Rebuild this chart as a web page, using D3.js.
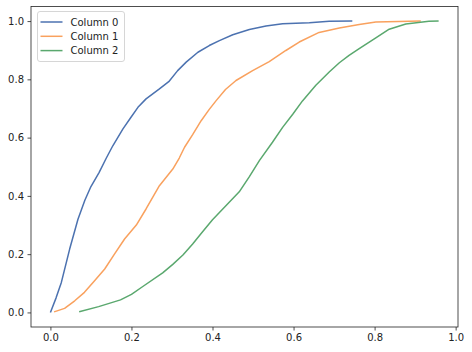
<!DOCTYPE html>
<html>
<head>
<meta charset="utf-8">
<script src="https://cdn.jsdelivr.net/npm/d3@7"></script>
<style>
  body { margin: 0; background: #fff; }
  text { font-family: "DejaVu Sans", sans-serif; }
</style>
</head>
<body>
<div id="chart"></div>
<script>
// series names (legend)
var seriesNames = ["Column 0", "Column 1", "Column 2"];

// traced points [x, y] for each column
var col0 = [[0, 0], [0.014, 0.05], [0.027, 0.103], [0.0475, 0.2175], [0.068, 0.32], [0.085, 0.385],
  [0.1, 0.432], [0.12, 0.48], [0.138, 0.53], [0.154, 0.572], [0.179, 0.63], [0.198, 0.668],
  [0.216, 0.704], [0.236, 0.733], [0.269, 0.767], [0.292, 0.792], [0.314, 0.83], [0.335, 0.859],
  [0.364, 0.893], [0.392, 0.916], [0.417, 0.933], [0.45, 0.953], [0.491, 0.971], [0.532, 0.983],
  [0.573, 0.991], [0.639, 0.994], [0.688, 0.999], [0.745, 1.0]];

var col1 = [[0.009, 0.002], [0.035, 0.014], [0.06, 0.04], [0.084, 0.069], [0.109, 0.109], [0.134, 0.149],
  [0.158, 0.2], [0.183, 0.252], [0.212, 0.3], [0.236, 0.355], [0.269, 0.435], [0.302, 0.492],
  [0.318, 0.53], [0.331, 0.567], [0.351, 0.61], [0.372, 0.658], [0.392, 0.697], [0.409, 0.727],
  [0.432, 0.765], [0.458, 0.796], [0.499, 0.83], [0.540, 0.861], [0.581, 0.899], [0.614, 0.928],
  [0.663, 0.961], [0.713, 0.976], [0.762, 0.988], [0.803, 0.997], [0.914, 1.0]];

var col2 = [[0.071, 0.002], [0.119, 0.02], [0.173, 0.043], [0.2, 0.062], [0.228, 0.089], [0.277, 0.136],
  [0.302, 0.165], [0.327, 0.197], [0.351, 0.235], [0.376, 0.278], [0.4, 0.318], [0.433, 0.366],
  [0.466, 0.414], [0.491, 0.466], [0.516, 0.522], [0.548, 0.584], [0.573, 0.635], [0.598, 0.68],
  [0.622, 0.726], [0.655, 0.78], [0.688, 0.825], [0.713, 0.857], [0.737, 0.882], [0.762, 0.905],
  [0.803, 0.942], [0.836, 0.972], [0.877, 0.99], [0.934, 0.999], [0.958, 1.0]];

var xTicks = [0.0, 0.2, 0.4, 0.6, 0.8, 1.0];
var yTicks = [0.0, 0.2, 0.4, 0.6, 0.8, 1.0];

var colors = ["#4c72b0", "#f9a15e", "#5aa86e"];

var width = 472, height = 352;
var margin = { left: 31, right: 14, top: 6.5, bottom: 25 };

var svg = d3.select("#chart").append("svg")
  .attr("width", width)
  .attr("height", height);

var xScale = d3.scaleLinear()
  .domain([-0.0479, 1.0058])
  .range([margin.left, width - margin.right]);
var yScale = d3.scaleLinear()
  .domain([-0.05, 1.05])
  .range([height - margin.bottom, margin.top]);

var line = d3.line()
  .x(function(d) { return xScale(d[0]); })
  .y(function(d) { return yScale(d[1]); });

var allSeries = [col0, col1, col2];
allSeries.forEach(function(s, i) {
  svg.append("path")
    .attr("d", line(s))
    .attr("fill", "none")
    .attr("stroke", colors[i])
    .attr("stroke-width", 1.5)
    .attr("stroke-linejoin", "round");
});

// axes
var xAxis = svg.append("g")
  .attr("transform", "translate(0," + (height - margin.bottom) + ")")
  .call(d3.axisBottom(xScale).tickValues(xTicks).tickFormat(d3.format(".1f"))
    .tickSize(3.5).tickPadding(3.5).tickSizeOuter(0));
var yAxis = svg.append("g")
  .attr("transform", "translate(" + margin.left + ",0)")
  .call(d3.axisLeft(yScale).tickValues(yTicks).tickFormat(d3.format(".1f"))
    .tickSize(3.5).tickPadding(3.5).tickSizeOuter(0));

[xAxis, yAxis].forEach(function(a) {
  a.selectAll("text").attr("font-size", 10).attr("fill", "#222");
  a.selectAll("line").attr("stroke", "#222").attr("stroke-width", 0.8);
  a.select(".domain").remove();
});

// frame
svg.append("rect")
  .attr("x", margin.left)
  .attr("y", margin.top)
  .attr("width", width - margin.left - margin.right)
  .attr("height", height - margin.top - margin.bottom)
  .attr("fill", "none")
  .attr("stroke", "#222")
  .attr("stroke-width", 0.8);

// legend
var legend = svg.append("g").attr("transform", "translate(37.5,11.5)");
legend.append("rect")
  .attr("width", 87)
  .attr("height", 50)
  .attr("rx", 2.5)
  .attr("fill", "#fff")
  .attr("fill-opacity", 0.8)
  .attr("stroke", "#ccc")
  .attr("stroke-width", 0.8);

seriesNames.forEach(function(name, i) {
  var yy = 10.5 + i * 14.3;
  legend.append("line")
    .attr("x1", 3).attr("x2", 25)
    .attr("y1", yy).attr("y2", yy)
    .attr("stroke", colors[i])
    .attr("stroke-width", 1.5);
  legend.append("text")
    .attr("x", 33).attr("y", yy)
    .attr("dy", "0.35em")
    .attr("font-size", 10)
    .attr("fill", "#222")
    .text(name);
});
</script>
</body>
</html>
